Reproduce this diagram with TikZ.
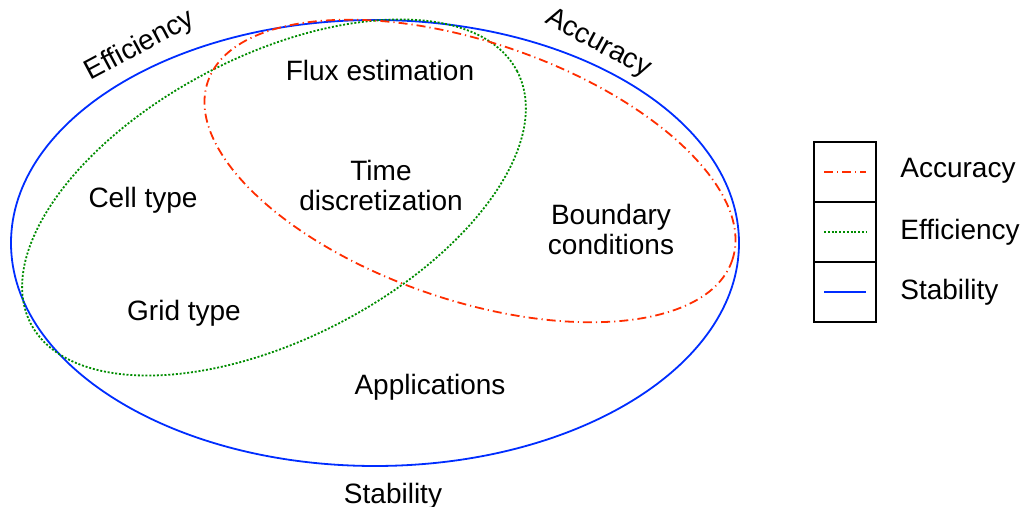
\documentclass[tikz,border=0pt]{standalone}
\usepackage{fontspec}
\setmainfont{Liberation Sans}
\definecolor{accred}{RGB}{255,45,0}
\definecolor{effgreen}{RGB}{0,140,0}
\definecolor{stabblue}{RGB}{0,45,255}
\tikzstyle{lbl}=[
    font=\fontsize{14}{15}\selectfont,
    inner sep=0pt,
    align=center,
]
\tikzstyle{stabline}=[draw=stabblue, line width=0.9pt]
\tikzstyle{effline}=[draw=effgreen, line width=0.9pt, dash pattern=on 1pt off 0.9pt]
\tikzstyle{accline}=[draw=accred, line width=0.9pt, dash pattern=on 4.5pt off 2pt on 0.6pt off 2pt]
\tikzstyle{legcell}=[draw=black, line width=1.2pt]

\begin{document}
\begin{tikzpicture}[x=0.5pt, y=-0.5pt]
        \useasboundingbox (0,0) rectangle (1025,507);
        % the three sets
        \draw[stabline] (375,243) ellipse [x radius=182pt, y radius=111.5pt];
        \draw[effline, rotate around={27.4:(274,197.5)}] (274,197.5) ellipse [x radius=137pt, y radius=70.8pt];
        \draw[accline, rotate around={-18.8:(470,171)}] (470,171) ellipse [x radius=138.5pt, y radius=64.5pt];
        \node (efflbl) at (140,46) [lbl, rotate=28] {Efficiency};
        \node (acclbl) at (598,44) [lbl, rotate=-28] {Accuracy};
        \node (stablbl) at (393,496) [lbl] {Stability};
        \node (flux) at (380,70) [lbl] {Flux estimation};
        \node (time) at (381,185) [lbl] {Time\\discretization};
        \node (cell) at (143,200) [lbl] {Cell type};
        \node (bound) at (611,229) [lbl] {Boundary\\conditions};
        \node (grid) at (184,313) [lbl] {Grid type};
        \node (appl) at (430,387) [lbl] {Applications};
        % legend
        \draw[legcell] (814,142) rectangle (876,202);
        \draw[legcell] (814,202) rectangle (876,262);
        \draw[legcell] (814,262) rectangle (876,322);
        \coordinate (accA) at (824,172);
        \coordinate (accB) at (866,172);
        \coordinate (effA) at (824,232);
        \coordinate (effB) at (866,232);
        \coordinate (stabA) at (824,292);
        \coordinate (stabB) at (866,292);
        \draw[accline] (accA) -- (accB);
        \draw[effline] (effA) -- (effB);
        \draw[stabline] (stabA) -- (stabB);
        \node (accleg) at (900,171) [lbl, anchor=west] {Accuracy};
        \node (effleg) at (900,232) [lbl, anchor=west] {Efficiency};
        \node (stableg) at (900,292) [lbl, anchor=west] {Stability};
    \end{tikzpicture}
\end{document}
